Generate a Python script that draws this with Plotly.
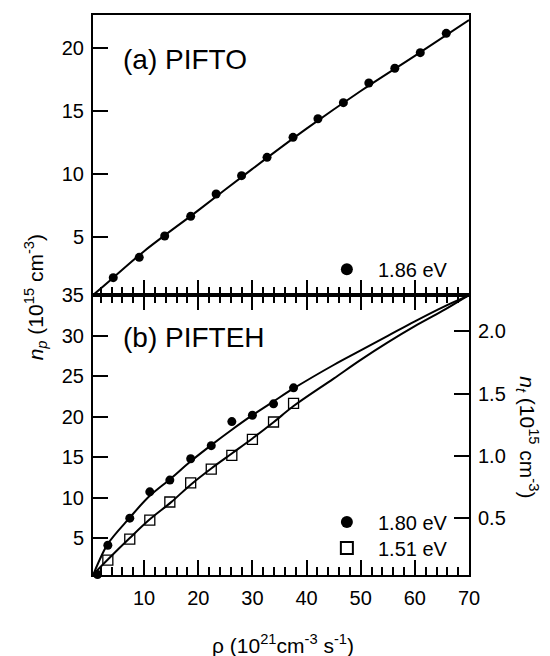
import plotly.graph_objects as go

# ---------------- data ----------------
# (a) PIFTO, 1.86 eV
rho_a = [4.3, 9.1, 13.8, 18.6, 23.3, 28.0, 32.7, 37.5, 42.1, 46.8, 51.5, 56.3, 61.0, 65.8]
np_a = [1.74, 3.36, 5.06, 6.62, 8.40, 9.86, 11.32, 12.91, 14.39, 15.67, 17.24, 18.41, 19.65, 21.19]
fit_x_a = [0.6, 4.3, 10, 20, 30, 40, 50, 60, 70]
fit_y_a = [0.36, 1.74, 3.85, 7.1, 10.4, 13.6, 16.6, 19.4, 22.25]

# (b) PIFTEH, 1.80 eV (n_p, left axis)
rho_b1 = [1.4, 3.3, 7.35, 11.05, 14.75, 18.6, 22.4, 26.2, 30.0, 33.9, 37.6]
np_b1 = [0.5, 4.13, 7.47, 10.73, 12.18, 14.82, 16.43, 19.41, 20.19, 21.6, 23.58]
fit_x_b1 = [0.6, 1.5, 3.3, 7.3, 11, 15, 18.6, 22.4, 26.2, 30, 33.9, 37.6, 45, 50, 55, 60, 65, 70]
fit_y_b1 = [0.45, 1.9, 4.3, 7.5, 10.2, 12.4, 14.5, 16.5, 18.4, 20.2, 21.9, 23.5, 26.4, 28.2, 30.0, 31.8, 33.5, 35.0]

# (b) PIFTEH, 1.51 eV (n_t, right axis)
rho_b2 = [3.3, 7.35, 11.05, 14.75, 18.6, 22.4, 26.2, 30.0, 33.9, 37.6]
nt_b2 = [0.166, 0.334, 0.486, 0.631, 0.785, 0.895, 1.005, 1.133, 1.272, 1.421]
fit_x_b2 = [0.6, 3.3, 7.3, 11, 15, 18.6, 22.4, 26.2, 30, 33.9, 37.6, 45, 50, 55, 60, 65, 70]
fit_y_b2 = [0.05, 0.17, 0.34, 0.49, 0.63, 0.77, 0.90, 1.02, 1.14, 1.27, 1.40, 1.62, 1.77, 1.91, 2.04, 2.16, 2.29]

x_ticks = [10, 20, 30, 40, 50, 60, 70]
ya_ticks = [5, 10, 15, 20]
yb_ticks = [5, 10, 15, 20, 25, 30, 35]
yr_ticks = [0.5, 1.0, 1.5, 2.0]

FONT = "Liberation Sans, Arial, Helvetica, sans-serif"
BLK = "black"
SP = "\u00a0\u00a0"

fig = go.Figure()

# top panel
fig.add_trace(go.Scatter(x=fit_x_a, y=fit_y_a, mode="lines", line=dict(color=BLK, width=2, shape="spline"),
                         xaxis="x2", yaxis="y2", showlegend=False))
fig.add_trace(go.Scatter(x=rho_a, y=np_a, mode="markers", name=SP + "1.86 eV",
                         marker=dict(symbol="circle", size=9, color=BLK),
                         xaxis="x2", yaxis="y2", legend="legend"))

# bottom panel
fig.add_trace(go.Scatter(x=fit_x_b1, y=fit_y_b1, mode="lines", line=dict(color=BLK, width=2, shape="spline"),
                         xaxis="x", yaxis="y", showlegend=False))
fig.add_trace(go.Scatter(x=fit_x_b2, y=fit_y_b2, mode="lines", line=dict(color=BLK, width=2, shape="spline"),
                         xaxis="x", yaxis="y3", showlegend=False))
fig.add_trace(go.Scatter(x=rho_b1, y=np_b1, mode="markers", name=SP + "1.80 eV",
                         marker=dict(symbol="circle", size=9, color=BLK),
                         xaxis="x", yaxis="y", legend="legend2", cliponaxis=False))
fig.add_trace(go.Scatter(x=rho_b2, y=nt_b2, mode="markers", name=SP + "1.51 eV",
                         marker=dict(symbol="square-open", size=10, color=BLK, line=dict(width=1.3, color=BLK)),
                         xaxis="x", yaxis="y3", legend="legend3"))

axis_common = dict(showline=True, linecolor=BLK, linewidth=2, showgrid=False, zeroline=False,
                   automargin=False,
                   tickcolor=BLK, tickwidth=2, tickfont=dict(family=FONT, size=20, color=BLK))

minor_x = dict(ticks="inside", dtick=2, ticklen=8, tickwidth=2, tickcolor=BLK, showgrid=False)

leg_common = dict(xanchor="left", yanchor="middle", bgcolor="rgba(0,0,0,0)",
                  font=dict(family=FONT, size=20, color=BLK), itemsizing="constant")

fig.update_layout(
    width=542, height=648,
    margin=dict(l=85, r=81, t=7, b=81),
    paper_bgcolor="white", plot_bgcolor="white",
    font=dict(family=FONT, color=BLK),
    xaxis=dict(**axis_common, domain=[0, 1], anchor="y", range=[0.56, 70], tickvals=x_ticks,
               ticks="inside", ticklen=15, mirror="ticks", minor=minor_x, ticklabelstandoff=4),
    xaxis2=dict(**axis_common, domain=[0, 1], anchor="y2", range=[0.56, 70], matches="x",
                tickvals=x_ticks, ticks="inside", ticklen=15, mirror=True, showticklabels=False,
                minor=minor_x),
    yaxis=dict(**axis_common, domain=[0, 0.5], anchor="x", range=[0.45, 35.05], tickvals=yb_ticks,
               ticks="inside", ticklen=15, ticklabelstandoff=3),
    yaxis2=dict(**axis_common, domain=[0.5, 1], anchor="x2", range=[0.36, 22.65], tickvals=ya_ticks,
                ticks="inside", ticklen=15, mirror=True, ticklabelstandoff=3),
    yaxis3=dict(**axis_common, overlaying="y", side="right", anchor="x", range=[0.046, 2.29],
                tickvals=yr_ticks, tickformat=".1f", ticks="inside", ticklen=15, ticklabelstandoff=3),
    legend=dict(x=0.622, y=0.546, **leg_common),
    legend2=dict(x=0.622, y=0.0946, **leg_common),
    legend3=dict(x=0.622, y=0.048, **leg_common),
    annotations=[
        dict(text="(a) PIFTO", x=0.075, y=0.921, xref="paper", yref="paper", xanchor="left",
             yanchor="middle", showarrow=False, font=dict(family=FONT, size=28, color=BLK)),
        dict(text="(b) PIFTEH", x=0.075, y=0.424, xref="paper", yref="paper", xanchor="left",
             yanchor="middle", showarrow=False, font=dict(family=FONT, size=28, color=BLK)),
        dict(text="<i>n</i><sub><i>p</i></sub> (10<sup>15</sup> cm<sup>-3</sup>)", x=-0.154, y=0.496,
             xref="paper", yref="paper", textangle=-90, showarrow=False, xanchor="center", yanchor="middle",
             font=dict(family=FONT, size=21, color=BLK)),
        dict(text="<i>n</i><sub><i>t</i></sub> (10<sup>15</sup> cm<sup>-3</sup>)", x=1.157, y=0.246,
             xref="paper", yref="paper", textangle=90, showarrow=False, xanchor="center", yanchor="middle",
             font=dict(family=FONT, size=21, color=BLK)),
        dict(text="ρ (10<sup>21</sup>cm<sup>-3</sup> s<sup>-1</sup>)", x=0.505, y=-0.123,
             xref="paper", yref="paper", showarrow=False, xanchor="center", yanchor="middle",
             font=dict(family=FONT, size=21, color=BLK)),
    ],
)

fig.write_html("out.html")
